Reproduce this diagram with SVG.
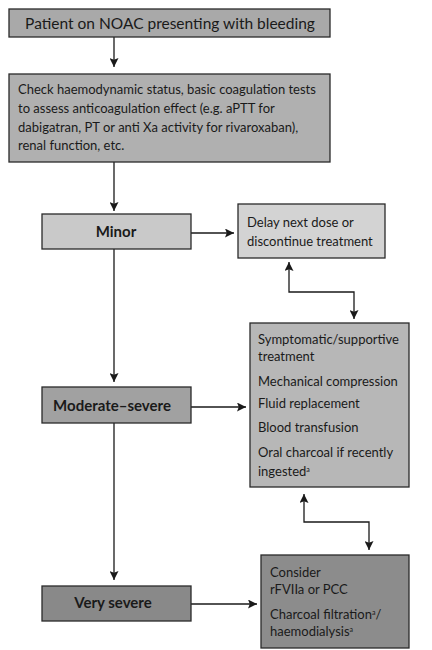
<svg xmlns="http://www.w3.org/2000/svg" width="432" height="650" viewBox="0 0 432 650">
<defs>
<marker id="ah" viewBox="0 0 10 10" refX="10" refY="5" markerWidth="9" markerHeight="9" orient="auto-start-reverse" markerUnits="userSpaceOnUse">
<path d="M0,0 L10,5 L0,10 L2,5 Z" fill="#1a1a1a"/>
</marker>
<style>
.b{stroke:#2a2a2a;stroke-width:1.3}
.t{font-family:Lato,"Liberation Sans",sans-serif;font-size:13px;fill:#1a1a1a}
.h{font-family:Lato,"Liberation Sans",sans-serif;font-size:15px;font-weight:bold;fill:#1a1a1a;text-anchor:middle}
.c{fill:none;stroke:#1a1a1a;stroke-width:1.3}
</style>
</defs>
<rect width="432" height="650" fill="#fff"/>
<g id="connectors">
<line class="c" x1="114" y1="37" x2="114" y2="67" marker-end="url(#ah)"/>
<line class="c" x1="114" y1="162" x2="114" y2="211" marker-end="url(#ah)"/>
<line class="c" x1="191" y1="233" x2="234" y2="233" marker-end="url(#ah)"/>
<polyline class="c" points="289,262 289,292 354,292 354,319" marker-start="url(#ah)" marker-end="url(#ah)"/>
<line class="c" x1="114" y1="249" x2="114" y2="382" marker-end="url(#ah)"/>
<line class="c" x1="191" y1="407" x2="246" y2="407" marker-end="url(#ah)"/>
<polyline class="c" points="304,494 304,522 369,522 369,550" marker-start="url(#ah)" marker-end="url(#ah)"/>
<line class="c" x1="114" y1="423" x2="114" y2="580" marker-end="url(#ah)"/>
<line class="c" x1="191" y1="604" x2="257" y2="604" marker-end="url(#ah)"/>
</g>
<g id="start">
<rect class="b" x="9" y="9" width="321" height="28" fill="#a9a9a9"/>
<text class="t" x="170" y="28.5" text-anchor="middle" style="font-size:15.5px">Patient on NOAC presenting with bleeding</text>
</g>
<g id="check">
<rect class="b" x="9" y="74" width="321" height="88" fill="#b0b0b0"/>
<text class="t" x="18" y="94">Check haemodynamic status, basic coagulation tests</text>
<text class="t" x="18" y="113">to assess anticoagulation effect (e.g. aPTT for</text>
<text class="t" x="18" y="132">dabigatran, PT or anti Xa activity for rivaroxaban),</text>
<text class="t" x="18" y="150">renal function, etc.</text>
</g>
<g id="minor">
<rect class="b" x="42" y="214" width="149" height="35" fill="#c9c9c9"/>
<text class="h" x="116" y="237">Minor</text>
</g>
<g id="delay">
<rect class="b" x="238" y="204" width="147" height="54" fill="#d3d3d3"/>
<text class="t" x="247" y="227">Delay next dose or</text>
<text class="t" x="247" y="246">discontinue treatment</text>
</g>
<g id="moderate">
<rect class="b" x="42" y="387" width="149" height="36" fill="#a1a1a1"/>
<text class="h" x="112" y="411">Moderate–severe</text>
</g>
<g id="supportive">
<rect class="b" x="250" y="323" width="159" height="164" fill="#b7b7b7"/>
<text class="t" x="258" y="344">Symptomatic/supportive</text>
<text class="t" x="258" y="361">treatment</text>
<text class="t" x="258" y="386">Mechanical compression</text>
<text class="t" x="258" y="408">Fluid replacement</text>
<text class="t" x="258" y="432">Blood transfusion</text>
<text class="t" x="258" y="457">Oral charcoal if recently</text>
<text class="t" x="258" y="476">ingested<tspan font-size="7" dy="-4">a</tspan></text>
</g>
<g id="verysevere">
<rect class="b" x="42" y="586" width="149" height="35" fill="#898989"/>
<text class="h" x="113" y="608">Very severe</text>
</g>
<g id="consider">
<rect class="b" x="261" y="555" width="148" height="93" fill="#8c8c8c"/>
<text class="t" x="270" y="577">Consider</text>
<text class="t" x="270" y="594">rFVIIa or PCC</text>
<text class="t" x="270" y="619">Charcoal filtration<tspan font-size="7" dy="-4">a</tspan><tspan dy="4">/</tspan></text>
<text class="t" x="270" y="636">haemodialysis<tspan font-size="7" dy="-4">a</tspan></text>
</g>
</svg>
